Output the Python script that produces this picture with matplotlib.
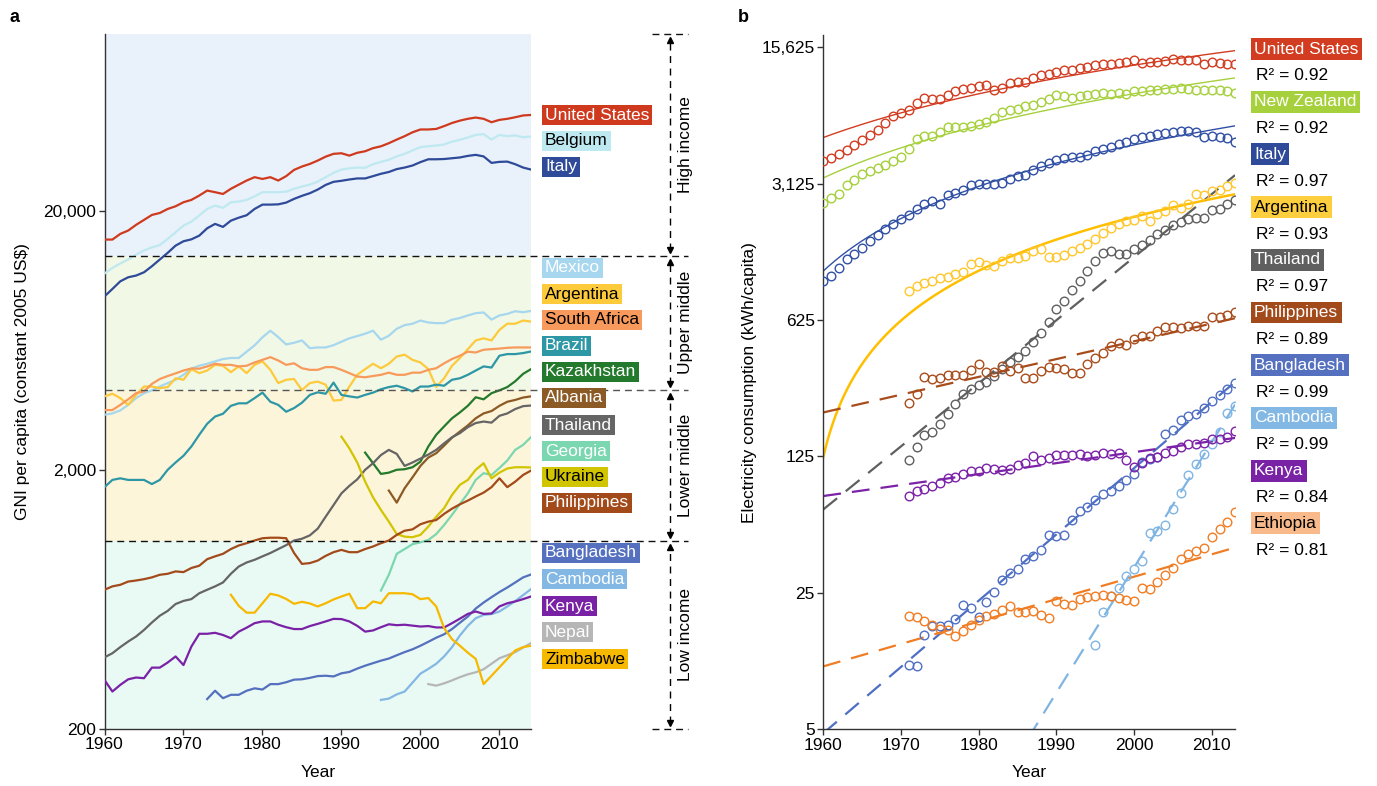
import numpy as np
import matplotlib.pyplot as plt
import matplotlib
from matplotlib.ticker import NullLocator

matplotlib.rcParams['font.family'] = ['Liberation Sans', 'DejaVu Sans']
matplotlib.rcParams['axes.linewidth'] = 1.0

# ---------------- panel a: GNI per capita (constant 2005 US$) ----------------
gni_united_states = [15460, 15460, 16260, 16750, 17620, 18410, 19240, 19580, 20290, 20780,
                     21540, 21990, 22860, 23890, 23550, 23180, 24270, 25180, 26120, 26910,
                     26490, 26910, 26120, 27160, 28710, 29580, 30270, 31190, 32290, 33110,
                     33280, 32590, 33420, 33880, 34830, 35400, 36390, 37580, 38730, 40090,
                     41110, 41110, 41310, 42360, 43550, 44470, 45190, 45710, 45190, 43850,
                     44770, 45190, 45820, 46560, 46770]
gni_belgium = [11430, 12020, 12500, 12950, 13530, 14030, 14420, 14720, 15550, 16490,
               17500, 18140, 19140, 20290, 20900, 20480, 21540, 21670, 21990, 22710,
               23550, 23550, 23550, 23660, 24270, 24780, 25180, 25880, 26910, 27950,
               28790, 29120, 29310, 29240, 30200, 30830, 31400, 32360, 33110, 34120,
               35160, 35400, 35650, 35980, 36900, 37500, 38280, 39170, 39450, 37580,
               39170, 38730, 38990, 38370, 38640]
gni_italy = [9330, 9970, 10670, 11060, 11230, 11560, 12200, 12950, 13740, 14650,
             15230, 15490, 16010, 17090, 17770, 17300, 18290, 18780, 19190, 20290,
             21090, 21090, 21140, 21470, 22190, 22800, 23340, 24110, 25120, 25820,
             26060, 26360, 26610, 26610, 27160, 27730, 28180, 28910, 29310, 29850,
             30760, 31550, 31550, 31620, 31840, 32060, 32510, 32810, 32360, 30550,
             30830, 30900, 30200, 29310, 28790]
gni_mexico = [3260, 3300, 3390, 3560, 3780, 3950, 4050, 4190, 4320, 4450,
              4650, 4910, 5040, 5130, 5240, 5350, 5400, 5400, 5710, 6040,
              6490, 6880, 6500, 6090, 6180, 6310, 5890, 5930, 5930, 6050,
              6240, 6430, 6560, 6700, 6880, 6350, 6580, 7000, 7230, 7320,
              7530, 7400, 7360, 7360, 7590, 7700, 7880, 8040, 8090, 7590,
              7880, 7990, 8180, 8110, 8200]
gni_argentina = [3840, 3930, 3780, 3560, 3890, 4190, 4190, 4130, 4170, 4510,
                 4450, 4890, 4720, 4830, 5080, 5040, 4760, 5010, 4720, 5080,
                 5240, 4860, 4320, 4450, 4480, 4060, 4320, 4380, 4260, 3700,
                 3720, 4190, 4650, 4890, 5130, 4930, 5130, 5470, 5560, 5310,
                 5190, 4890, 4170, 4510, 5040, 5400, 5840, 6310, 6430, 6310,
                 6930, 7320, 7320, 7530, 7460]
gni_south_africa = [3400, 3400, 3560, 3740, 3950, 4010, 4290, 4480, 4600, 4710,
                    4830, 4920, 4910, 5010, 5130, 5080, 5080, 5010, 5040, 5190,
                    5310, 5440, 5280, 5080, 5150, 4930, 4860, 4860, 4980, 4980,
                    4860, 4720, 4580, 4550, 4600, 4650, 4740, 4650, 4650, 4740,
                    4740, 4860, 4930, 5150, 5350, 5510, 5710, 5670, 5810, 5840,
                    5870, 5910, 5930, 5930, 5930]
gni_brazil = [1714, 1828, 1854, 1828, 1828, 1828, 1762, 1828, 2000, 2134,
              2265, 2460, 2730, 3010, 3210, 3290, 3530, 3610, 3610, 3780,
              3970, 3660, 3560, 3350, 3460, 3630, 3890, 3980, 3930, 4340,
              3890, 3840, 3800, 3890, 3970, 4090, 4170, 4220, 4130, 4010,
              4190, 4190, 4260, 4220, 4450, 4510, 4650, 4830, 5010, 4960,
              5510, 5590, 5590, 5640, 5720]
gni_kazakhstan = [2330, 2120, 1928, 1950, 2000, 2010, 2046, 2150, 2460, 2730, 2940,
                  3160, 3330, 3530, 3810, 3740, 3950, 4050, 4170, 4390, 4690, 4890]
gni_albania = [1663, 1494, 1698, 1871, 2070, 2230, 2317, 2480, 2660, 2810,
               2965, 3160, 3300, 3370, 3530, 3660, 3720, 3800, 3840]
gni_thailand = [378, 392, 414, 435, 455, 482, 515, 547, 571, 607,
                624, 634, 668, 689, 710, 735, 794, 847, 878, 899,
                927, 955, 989, 1024, 1067, 1084, 1117, 1186, 1318, 1462,
                1622, 1734, 1837, 2000, 2120, 2280, 2387, 2303, 2070, 2134,
                2210, 2290, 2387, 2530, 2670, 2770, 2920, 3030, 3070, 3040,
                3230, 3300, 3430, 3520, 3540]
gni_georgia = [684, 787, 948, 989, 1033, 1050, 1072, 1130, 1225, 1340,
               1476, 1622, 1828, 1941, 1910, 2032, 2173, 2387, 2495, 2673]
gni_ukraine = [2685, 2420, 2134, 1800, 1566, 1400, 1262, 1130, 1104, 1099,
               1122, 1208, 1318, 1422, 1600, 1750, 1828, 2000, 2120, 1854,
               1950, 2023, 2046, 2046, 2042]
gni_philippines = [689, 710, 720, 741, 748, 757, 769, 787, 794, 811,
                   806, 836, 853, 904, 927, 948, 989, 1021, 1042, 1067,
                   1089, 1094, 1094, 1089, 955, 867, 873, 893, 931, 962,
                   982, 962, 962, 989, 1012, 1042, 1067, 1122, 1164, 1178,
                   1233, 1262, 1280, 1352, 1416, 1472, 1521, 1578, 1633, 1714,
                   1854, 1714, 1800, 1910, 1986]
gni_bangladesh = [261, 281, 263, 271, 271, 281, 287, 284, 298, 298,
                  303, 310, 311, 315, 320, 321, 319, 328, 332, 342,
                  351, 359, 367, 374, 385, 396, 406, 419, 434, 450,
                  464, 486, 514, 543, 583, 615, 645, 675, 703, 735,
                  769, 789]
gni_cambodia = [259, 262, 272, 279, 302, 327, 341, 357, 381, 414,
                459, 500, 535, 551, 555, 568, 594, 623, 657, 693]
gni_kenya = [309, 279, 296, 311, 316, 314, 345, 345, 361, 381,
             353, 416, 466, 466, 470, 461, 448, 475, 492, 512,
             520, 520, 505, 494, 486, 486, 499, 509, 520, 532,
             531, 520, 500, 475, 480, 494, 507, 503, 505, 501,
             497, 499, 493, 493, 512, 533, 556, 568, 556, 558,
             594, 611, 621, 634, 649]
gni_nepal = [298, 294, 300, 308, 317, 325, 331, 340, 357, 375, 385, 396, 412, 429]
gni_zimbabwe = [659, 597, 562, 562, 611, 665, 655, 635, 608, 619,
                610, 594, 611, 632, 649, 665, 585, 585, 621, 611,
                668, 668, 668, 662, 634, 640, 594, 490, 444, 419,
                394, 373, 298, 321, 346, 373, 402, 414, 419]

# income group thresholds (US$) separating low / lower middle / upper middle / high
income_bounds = [1064, 4070, 13400]
income_groups = ["Low income", "Lower middle", "Upper middle", "High income"]

# name, first year, values, line colour, label text colour
gni_series = [
    ("United States", 1960, gni_united_states, "#cf3a1e", "white"),
    ("Belgium", 1960, gni_belgium, "#bfe9f1", "black"),
    ("Italy", 1960, gni_italy, "#2e4a98", "white"),
    ("Mexico", 1960, gni_mexico, "#a6d7ef", "white"),
    ("Argentina", 1960, gni_argentina, "#fdca3c", "black"),
    ("South Africa", 1960, gni_south_africa, "#f89a5b", "black"),
    ("Brazil", 1960, gni_brazil, "#2e97a6", "white"),
    ("Kazakhstan", 1993, gni_kazakhstan, "#247a2c", "white"),
    ("Albania", 1996, gni_albania, "#8c5a24", "white"),
    ("Thailand", 1960, gni_thailand, "#656565", "white"),
    ("Georgia", 1995, gni_georgia, "#7ad7b0", "white"),
    ("Ukraine", 1990, gni_ukraine, "#d1c400", "black"),
    ("Philippines", 1960, gni_philippines, "#a34a1b", "white"),
    ("Bangladesh", 1973, gni_bangladesh, "#5470bf", "white"),
    ("Cambodia", 1995, gni_cambodia, "#84b8e4", "white"),
    ("Kenya", 1960, gni_kenya, "#7a22a6", "white"),
    ("Nepal", 2001, gni_nepal, "#b6b6b6", "white"),
    ("Zimbabwe", 1976, gni_zimbabwe, "#f7b800", "black"),
]

# ---------------- panel b: electricity consumption (kWh/capita) ----------------
elec_united_states = [4070, 4220, 4440, 4650, 4940, 5230, 5540, 5880, 6370, 6950,
                      7170, 7450, 8050, 8540, 8450, 8460, 8940, 9330, 9510, 9700,
                      9860, 9970, 9470, 9660, 10250, 10360, 10400, 10860, 11210, 11440,
                      11660, 11980, 11890, 12270, 12450, 12650, 12860, 12860, 13010, 13110,
                      13520, 12950, 13110, 13210, 13360, 13570, 13470, 13520, 13470, 12860,
                      13210, 13010, 12860, 12860]
elec_new_zealand = [2490, 2640, 2770, 3090, 3250, 3510, 3650, 3760, 3910, 4090,
                    4270, 4690, 5300, 5480, 5480, 5770, 6070, 6110, 6110, 6170,
                    6330, 6440, 6820, 7300, 7450, 7520, 7800, 7900, 8150, 8460,
                    8940, 8770, 8600, 8840, 8940, 9040, 9120, 9040, 9120, 9040,
                    9330, 9330, 9400, 9400, 9600, 9600, 9660, 9600, 9470, 9470,
                    9470, 9400, 9290, 9120]
elec_italy = [995, 1056, 1150, 1284, 1361, 1460, 1590, 1708, 1823, 1934,
              2067, 2155, 2305, 2472, 2541, 2472, 2727, 2805, 2910, 3070,
              3125, 3125, 3125, 3144, 3303, 3404, 3472, 3685, 3858, 4007,
              4145, 4223, 4304, 4270, 4390, 4623, 4710, 4808, 4992, 5090,
              5279, 5407, 5483, 5600, 5661, 5770, 5833, 5833, 5723, 5407,
              5483, 5444, 5370, 5140]
elec_argentina = [879, 932, 969, 995, 1023, 1035, 1077, 1098, 1210, 1243,
                  1201, 1186, 1258, 1293, 1308, 1334, 1415, 1441, 1319, 1319,
                  1345, 1415, 1471, 1541, 1634, 1740, 1845, 1934, 2011, 2035,
                  2132, 2011, 2173, 2261, 2426, 2350, 2472, 2780, 2727, 2857,
                  2910, 3028, 3144]
elec_thailand = [120, 140, 161, 166, 184, 206, 232, 262, 276, 291,
                 302, 323, 349, 383, 405, 436, 484, 538, 613, 711,
                 785, 890, 994, 1118, 1252, 1380, 1413, 1359, 1359, 1443,
                 1513, 1602, 1718, 1818, 1914, 1990, 2067, 2092, 2092, 2282,
                 2307, 2466, 2567]
elec_philippines = [236, 260, 320, 311, 314, 327, 327, 327, 347, 374,
                    338, 340, 363, 343, 354, 314, 317, 344, 361, 357,
                    350, 334, 334, 374, 401, 425, 459, 477, 465, 499,
                    519, 521, 552, 573, 573, 568, 582, 582, 585, 645,
                    645, 667, 689]
elec_bangladesh = [10.7, 10.5, 15.2, 17.0, 17.0, 17.2, 18.4, 21.6, 21.0, 18.8,
                   22.5, 25.2, 29.0, 31.7, 33.0, 37.1, 38.6, 41.4, 49.5, 48.9,
                   49.5, 59, 66, 69, 75, 80, 83, 88, 95, 102,
                   117, 121, 124, 163, 171, 193, 202, 207, 222, 241,
                   259, 278, 298]
elec_cambodia = [13.5, 20.0, 24.0, 26.5, 30.5, 33.0, 36.3, 50.4, 51.9, 55.8,
                 67.2, 81.2, 101, 115, 128, 145, 166, 208, 226]
elec_kenya = [78, 83, 85, 88, 91, 97, 98, 102, 105, 105,
              109, 108, 107, 108, 113, 116, 126, 120, 123, 127,
              127, 127, 129, 126, 127, 130, 128, 130, 120, 111,
              116, 123, 124, 130, 133, 140, 145, 145, 146, 153,
              153, 157, 168]
elec_ethiopia = [19.0, 18.8, 17.9, 17.2, 16.3, 16.1, 15.1, 15.9, 17.2, 18.1,
                 19.0, 19.6, 20.5, 21.3, 19.9, 19.9, 20.1, 19.3, 18.7, 22.7,
                 21.9, 21.7, 23.4, 23.7, 24.2, 24.5, 24.1, 23.6, 22.9, 22.8,
                 26.5, 26.2, 28.5, 30.7, 33.6, 37.4, 39.7, 40.9, 42.3, 48.5,
                 52.9, 57.7, 65.0]

# name, first year, values, marker colour, box colour, box text colour, fit type, R^2
elec_series = [
    ("United States", 1960, elec_united_states, "#d23c20", "#d23c20", "white", "linear", 0.92),
    ("New Zealand", 1960, elec_new_zealand, "#a6d03c", "#a6d03c", "white", "linear", 0.92),
    ("Italy", 1960, elec_italy, "#3050a5", "#2e4a98", "white", "linear", 0.97),
    ("Argentina", 1971, elec_argentina, "#ffc72e", "#fdcf3e", "black", "linear", 0.93),
    ("Thailand", 1971, elec_thailand, "#5f5f5f", "#5f5f5f", "white", "exp", 0.97),
    ("Philippines", 1971, elec_philippines, "#a94c1c", "#a34a1b", "white", "exp", 0.89),
    ("Bangladesh", 1971, elec_bangladesh, "#4f6fc4", "#5470bf", "white", "exp", 0.99),
    ("Cambodia", 1995, elec_cambodia, "#80b5e3", "#84b8e4", "white", "exp", 0.99),
    ("Kenya", 1971, elec_kenya, "#7b22a8", "#7a22a6", "white", "exp", 0.84),
    ("Ethiopia", 1971, elec_ethiopia, "#f07d24", "#f8b98b", "black", "exp", 0.81),
]

W, H = 1377, 786
fig = plt.figure(figsize=(W / 100, H / 100), dpi=100)


def fig_xy(px, py):
    return px / W, 1 - py / H


def style_axis(ax):
    for side in ("top", "right"):
        ax.spines[side].set_visible(False)
    ax.spines["left"].set_color("#333333")
    ax.spines["bottom"].set_color("#333333")
    ax.tick_params(axis="both", which="major", direction="out", length=4,
                   width=1, labelsize=12.5, pad=2, color="#333333")
    ax.yaxis.set_minor_locator(NullLocator())


# ----- panel a -----
axa = fig.add_axes([104.5 / W, 1 - 729 / H, 426.5 / W, 695 / H])
axa.set_yscale("log")
ylo, yhi = 200, 96000
axa.set_xlim(1960, 2014)
axa.set_ylim(ylo, yhi)
band_edges = [ylo] + income_bounds + [yhi]
band_colors = ["#e9f9f4", "#fdf5da", "#f1f8e6", "#e9f1fa"]
for k in range(4):
    axa.axhspan(band_edges[k], band_edges[k + 1], color=band_colors[k], lw=0, zorder=0)

for name, start, vals, color, tcolor in gni_series:
    yrs = np.arange(start, start + len(vals))
    axa.plot(yrs, vals, color=color, lw=1.6, solid_joinstyle="round", zorder=3)

ytr = axa.get_yaxis_transform()
for b in income_bounds:
    c = "#555555" if b == income_bounds[1] else "#111111"
    axa.plot([0, 1.368], [b, b], transform=ytr, color=c, lw=1.0,
             ls=(0, (5, 3.5)), clip_on=False, zorder=4)
for b in (ylo, yhi):
    axa.plot([1.284, 1.368], [b, b], transform=ytr, color="#111111", lw=1.0,
             ls=(0, (5, 3.5)), clip_on=False)

gap = 10 ** (6 / 259)
for k in range(4):
    lo, hi = band_edges[k] * gap, band_edges[k + 1] / gap
    axa.plot([1.326, 1.326], [lo, hi], transform=ytr, color="black", lw=1.0,
             ls=(0, (5, 4)), clip_on=False)
    axa.plot([1.326], [hi], transform=ytr, marker="^", ms=5, color="black", clip_on=False)
    axa.plot([1.326], [lo], transform=ytr, marker="v", ms=5, color="black", clip_on=False)
    mid = np.sqrt(band_edges[k] * band_edges[k + 1])
    axa.text(1.362, mid, income_groups[k], transform=ytr, rotation=90,
             ha="center", va="center", fontsize=12.5, clip_on=False)

axa.set_yticks([200, 2000, 20000])
axa.set_yticklabels(["200", "2,000", "20,000"])
axa.set_xticks(np.arange(1960, 2011, 10))
style_axis(axa)
axa.set_xlabel("Year", fontsize=12.5)
axa.xaxis.set_label_coords(0.5, -0.052)
axa.set_ylabel("GNI per capita (constant 2005 US$)", fontsize=12.5)
axa.yaxis.set_label_coords(-0.175, 0.5)

# country tags beside panel a
label_rows = [115, 141, 167, 268, 294, 320, 346, 372, 398, 425, 451, 477, 503,
              553, 579, 606, 632, 659]
for (name, start, vals, color, tcolor), py in zip(gni_series, label_rows):
    x, y = fig_xy(545, py)
    fig.text(x, y, name, color=tcolor, fontsize=12.5, ha="left", va="center",
             bbox=dict(boxstyle="square,pad=0.16", fc=color, ec="none"))

# ----- panel b -----
axb = fig.add_axes([823.3 / W, 1 - 729.3 / H, 411.8 / W, 694 / H])
axb.set_yscale("log")
axb.set_xlim(1960, 2013)
axb.set_ylim(5, 18000)
xs = np.linspace(1960, 2013, 400)

for name, start, vals, color, box, tcolor, kind, r2 in elec_series:
    yrs = np.arange(start, start + len(vals))
    vals = np.asarray(vals, dtype=float)
    if kind == "linear":
        coef = np.polyfit(yrs, vals, 1)
        fit = np.polyval(coef, xs)
        ok = fit > 0
        lw = 1.8 if name == "Argentina" else 1.0
        fcolor = "#ffbf00" if name == "Argentina" else color
        axb.plot(xs[ok], fit[ok], color=fcolor, lw=lw, zorder=2)
    else:
        coef = np.polyfit(yrs, np.log(vals), 1)
        fit = np.exp(np.polyval(coef, xs))
        axb.plot(xs, fit, color=color, lw=1.6, ls=(0, (8, 5)), zorder=2)
    axb.plot(yrs, vals, ls="none", marker="o", ms=6.2, mfc="none",
             mec=color, mew=1.0, zorder=3)

ticks_b = [5, 25, 125, 625, 3125, 15625]
axb.set_yticks(ticks_b)
axb.set_yticklabels([f"{t:,}" for t in ticks_b])
axb.set_xticks(np.arange(1960, 2011, 10))
style_axis(axb)
axb.set_xlabel("Year", fontsize=12.5)
axb.xaxis.set_label_coords(0.5, -0.052)
axb.set_ylabel("Electricity consumption (kWh/capita)", fontsize=12.5)
axb.yaxis.set_label_coords(-0.16, 0.5)

# country tags and R^2 values beside panel b
for i, (name, start, vals, color, box, tcolor, kind, r2) in enumerate(elec_series):
    py = 49 + i * 52.7
    x, y = fig_xy(1254, py)
    fig.text(x, y, name, color=tcolor, fontsize=12.5, ha="left", va="center",
             bbox=dict(boxstyle="square,pad=0.2", fc=box, ec="none"))
    x, y = fig_xy(1256, py + 27)
    fig.text(x, y, f"R\u00b2 = {r2:.2f}", color="black", fontsize=12.5,
             ha="left", va="center")

# panel letters
fig.text(*fig_xy(10, 17), "a", fontsize=13, fontweight="bold", va="center")
fig.text(*fig_xy(738, 17), "b", fontsize=13, fontweight="bold", va="center")

fig.savefig("out.png", dpi=100)
